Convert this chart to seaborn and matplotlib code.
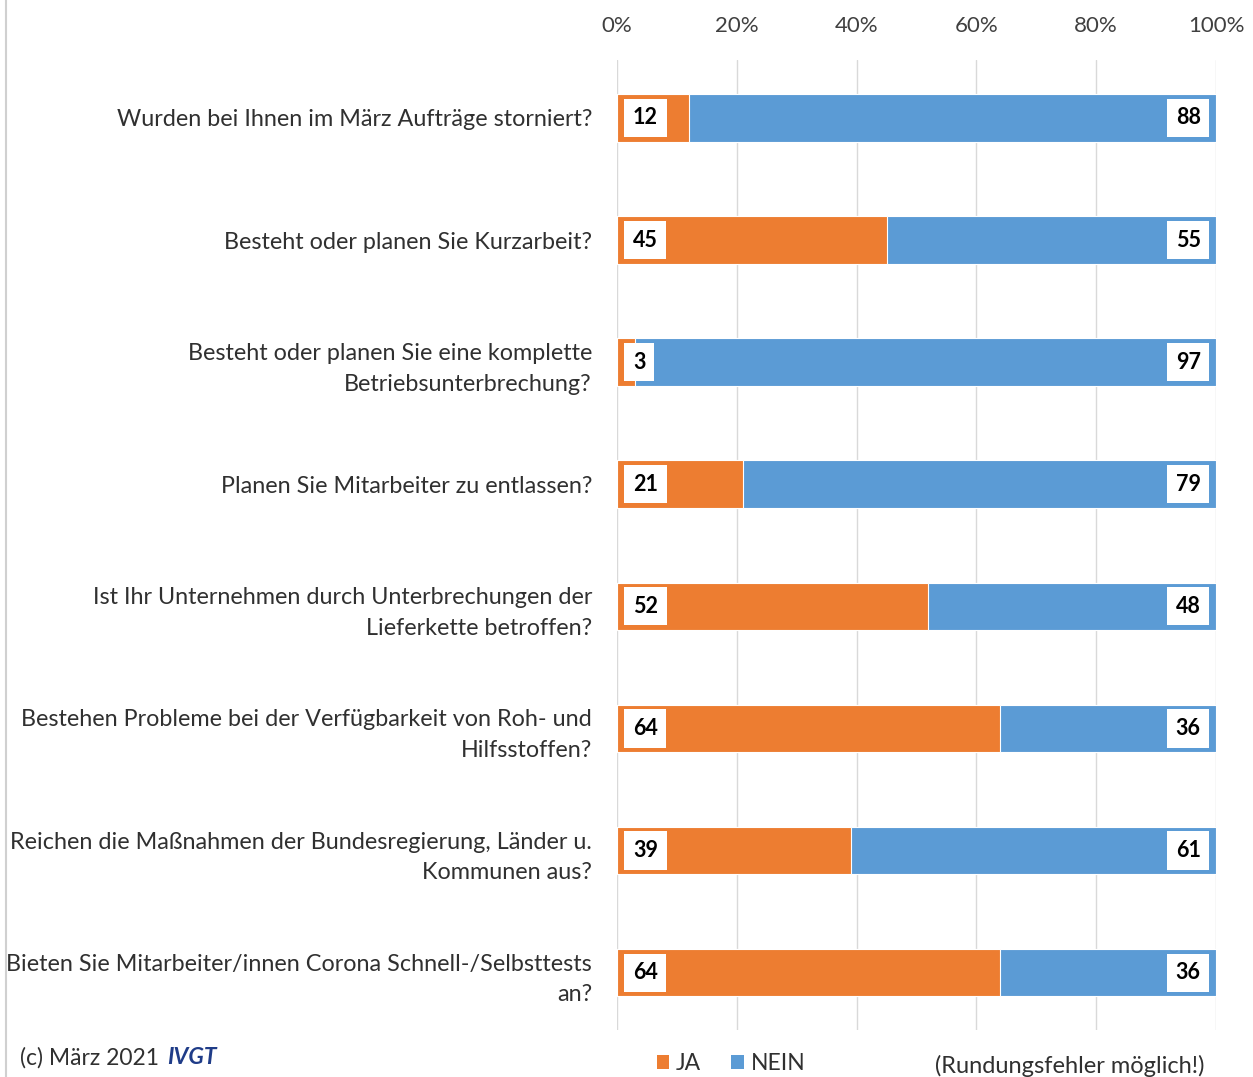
import matplotlib
matplotlib.use("Agg")
import matplotlib.pyplot as plt
import seaborn as sns
import pandas as pd
from matplotlib.patches import Patch
from matplotlib.lines import Line2D

questions = [
    "Wurden bei Ihnen im März Aufträge storniert?",
    "Besteht oder planen Sie Kurzarbeit?",
    "Besteht oder planen Sie eine komplette\nBetriebsunterbrechung?",
    "Planen Sie Mitarbeiter zu entlassen?",
    "Ist Ihr Unternehmen durch Unterbrechungen der\nLieferkette betroffen?",
    "Bestehen Probleme bei der Verfügbarkeit von Roh- und\nHilfsstoffen?",
    "Reichen die Maßnahmen der Bundesregierung, Länder u.\nKommunen aus?",
    "Bieten Sie Mitarbeiter/innen Corona Schnell-/Selbsttests\nan?",
]
ja = [12, 45, 3, 21, 52, 64, 39, 64]
nein = [88, 55, 97, 79, 48, 36, 61, 36]
xticks = [0, 20, 40, 60, 80, 100]
xtick_labels = ["0%", "20%", "40%", "60%", "80%", "100%"]

ORANGE = "#ED7D31"
BLUE = "#5B9BD5"
TXT = "#303030"

sns.set_theme(style="white")
plt.rcParams["font.family"] = ["Lato", "DejaVu Sans"]

df = pd.DataFrame({"q": questions, "ja": ja, "nein": nein})
df["total"] = df["ja"] + df["nein"]

fig = plt.figure(figsize=(12.53, 10.77), dpi=100)
ax = fig.add_axes([617 / 1253, 1 - 1030 / 1077, (1216 - 617) / 1253, (1030 - 60) / 1077])

sns.barplot(data=df, y="q", x="total", color=BLUE, width=0.39, ax=ax,
            orient="h", saturation=1, edgecolor="white", linewidth=0.8, zorder=2)
sns.barplot(data=df, y="q", x="ja", color=ORANGE, width=0.39, ax=ax,
            orient="h", saturation=1, edgecolor="white", linewidth=0.8, zorder=3)

ax.set_xlim(0, 100)
ax.set_ylim(7.47, -0.475)
ax.set_xticks(xticks)
ax.set_xticklabels(xtick_labels, fontsize=16, color="#404040")
ax.xaxis.tick_top()
ax.tick_params(axis="x", length=0, pad=17)
ax.tick_params(axis="y", length=0, pad=18)
ax.set_yticks(range(len(questions)))
ax.set_yticklabels(questions, fontsize=16.8, color=TXT, ha="right", linespacing=1.55)
ax.set_xlabel("")
ax.set_ylabel("")
ax.grid(axis="x", color="#D9D9D9", linewidth=1, zorder=0)
ax.set_axisbelow(True)
for s in ax.spines.values():
    s.set_visible(False)

box = dict(boxstyle="square,pad=0.4", facecolor="white", edgecolor="none")
for i, (a, b, t) in enumerate(zip(df["ja"], df["nein"], df["total"])):
    ax.annotate(str(a), xy=(0, i), xytext=(11.5, 0), textcoords="offset points",
                ha="left", va="center", fontsize=15.5, fontweight="bold",
                color="black", bbox=box, zorder=5)
    ax.annotate(str(b), xy=(t, i), xytext=(-11, 0), textcoords="offset points",
                ha="right", va="center", fontsize=15.5, fontweight="bold",
                color="black", bbox=box, zorder=5)

handles = [Patch(facecolor=ORANGE, edgecolor="none", label="JA"),
           Patch(facecolor=BLUE, edgecolor="none", label="NEIN")]
fig.legend(handles=handles, loc="center left", bbox_to_anchor=(636 / 1253, 1 - 1064 / 1077),
           ncol=2, frameon=False, fontsize=16.5, handlelength=0.55, handleheight=0.55,
           handletextpad=0.3, columnspacing=1.3, labelcolor=TXT)

fig.text(935 / 1253, 1 - 1066 / 1077, "(Rundungsfehler möglich!)", fontsize=17,
         color=TXT, ha="left", va="center")
t1 = fig.text(20 / 1253, 1 - 1058 / 1077, "(c) März 2021", fontsize=16.5, color=TXT,
              ha="left", va="center")
fig.text(167 / 1253, 1 - 1058 / 1077, "IVGT", fontsize=16.5, color="#1F3C88",
         fontweight="bold", fontstyle="italic", ha="left", va="center")

fig.add_artist(Line2D([6 / 1253, 6 / 1253], [0, 1], color="#D0D0D0", linewidth=1.5))

fig.savefig("out.png", dpi=100, facecolor="white")
